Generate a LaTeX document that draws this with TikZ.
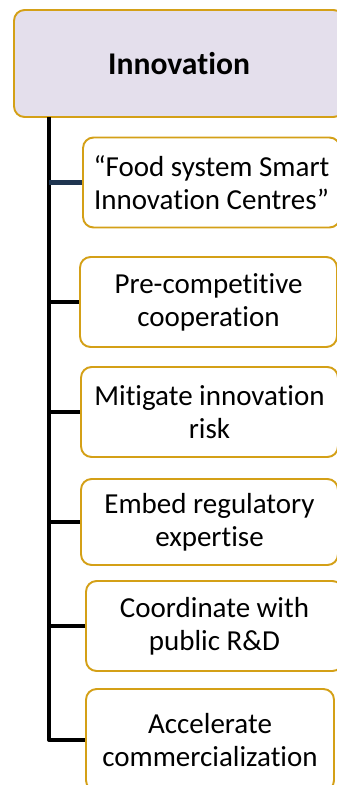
\documentclass[tikz,border=0pt]{standalone}
\usepackage{fontspec}
\setmainfont{Carlito}[Ligatures=NoCommon]
\usetikzlibrary{positioning}
\definecolor{cgold}{HTML}{D4A017}
\definecolor{clav}{HTML}{E4DFEC}
\definecolor{cnavy}{HTML}{1F3550}
\tikzset{
  head/.style={draw=cgold, fill=clav, line width=1.1pt, rounded corners=6pt, minimum width=6.6cm, minimum height=2.14cm, font=\fontsize{18}{21}\selectfont\bfseries},
  item/.style={draw=cgold, fill=white, line width=1.1pt, rounded corners=6pt, minimum width=5.14cm, minimum height=1.8cm, align=center, inner sep=2pt, font=\fontsize{16.5}{18.8}\selectfont},
  trunk/.style={line width=2.3pt, line join=round},
  branch/.style={line width=2.3pt},
}
\begin{document}
\begin{tikzpicture}[x=0.02cm,y=-0.02cm]
\useasboundingbox (0,0) rectangle (337,785);
\clip (0,0) rectangle (337,785);
\node[head] (top) at (179,63.5) {Innovation};
\node[item] (b1) at (211.5,182.5) {“Food system Smart\\Innovation Centres”};
\node[item] (b2) at (208.5,302) {Pre-competitive\\cooperation};
\node[item] (b3) at (209.5,412) {Mitigate innovation\\risk};
\node[item, minimum height=1.72cm] (b4) at (209.5,522) {Embed regulatory\\expertise};
\node[item] (b5) at (214.5,626) {Coordinate with\\public R\&D};
\node[item, minimum width=4.96cm, minimum height=2.04cm] (b6) at (210,740) {Accelerate\\commercialization};
\coordinate (t0) at (49,117);
\draw[trunk] (t0) |- (b6.west);
\draw[branch, cnavy] (b1.west) -- (b1.west -| t0);
\foreach \b in {b2,b3,b4,b5}
  \draw[branch] (\b.west) -- (\b.west -| t0);
\end{tikzpicture}
\end{document}
